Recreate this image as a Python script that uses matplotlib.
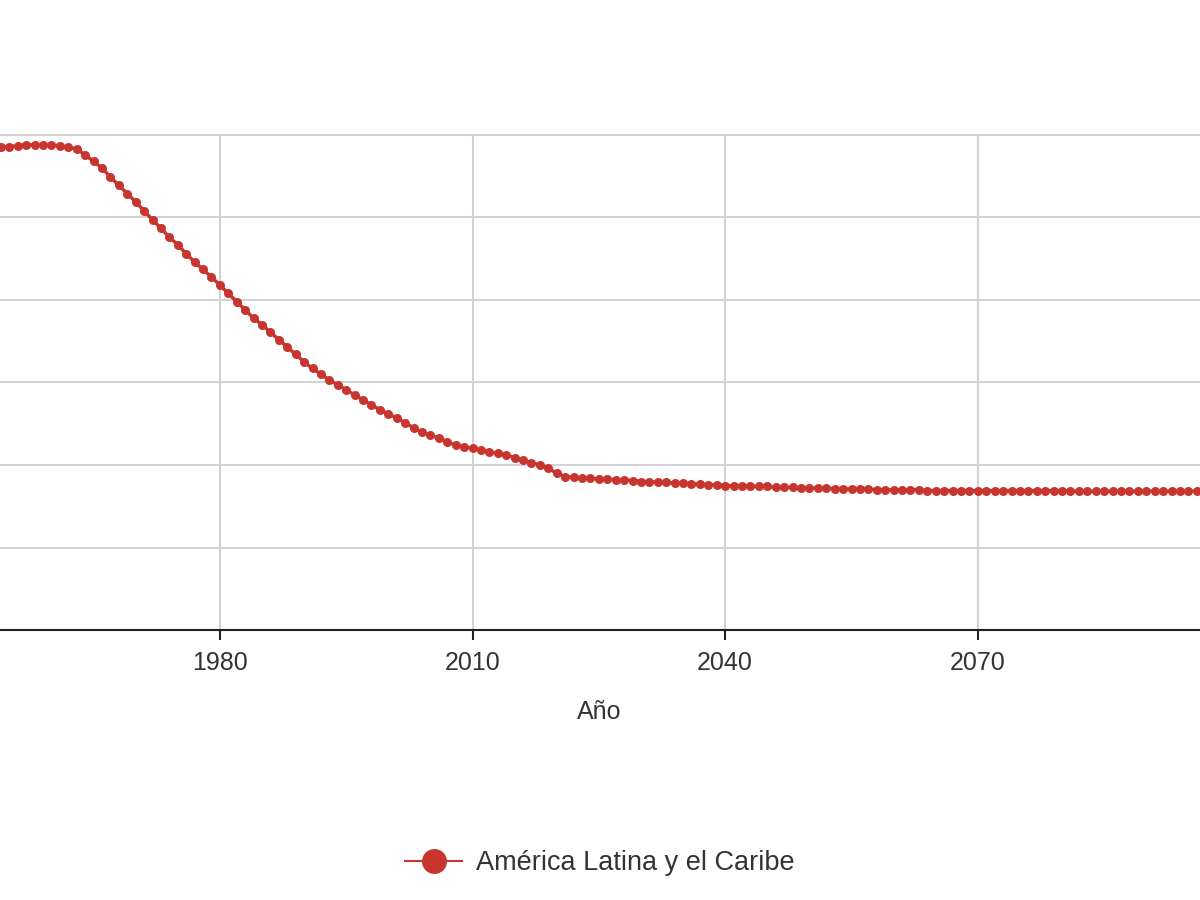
import matplotlib
matplotlib.use("Agg")
import matplotlib.pyplot as plt
from matplotlib.lines import Line2D

plt.rcParams['font.family'] = ['Liberation Sans', 'DejaVu Sans']

# Tasa global de fecundidad, America Latina y el Caribe
years = list(range(1950, 2101))
fertility = [
    5.80, 5.82, 5.83, 5.84, 5.85, 5.86, 5.87, 5.88, 5.88, 5.88,  # 1950-1959
    5.88, 5.87, 5.85, 5.83, 5.76, 5.68, 5.60, 5.49, 5.39, 5.29,  # 1960-1969
    5.19, 5.08, 4.97, 4.87, 4.76, 4.67, 4.56, 4.46, 4.37, 4.28,  # 1970-1979
    4.18, 4.08, 3.98, 3.88, 3.78, 3.70, 3.61, 3.52, 3.43, 3.34,  # 1980-1989
    3.25, 3.17, 3.10, 3.03, 2.97, 2.91, 2.85, 2.79, 2.73, 2.67,  # 1990-1999
    2.62, 2.57, 2.51, 2.45, 2.40, 2.36, 2.33, 2.28, 2.24, 2.22,  # 2000-2009
    2.20, 2.18, 2.16, 2.14, 2.12, 2.09, 2.06, 2.03, 2.00, 1.96,  # 2010-2019
    1.90, 1.86, 1.85, 1.84, 1.84, 1.83, 1.83, 1.82, 1.82, 1.81,  # 2020-2029
    1.80, 1.80, 1.79, 1.79, 1.78, 1.78, 1.77, 1.77, 1.76, 1.76,  # 2030-2039
    1.75, 1.75, 1.75, 1.74, 1.74, 1.74, 1.73, 1.73, 1.73, 1.72,  # 2040-2049
    1.72, 1.72, 1.72, 1.71, 1.71, 1.71, 1.71, 1.71, 1.70, 1.70,  # 2050-2059
    1.70, 1.70, 1.70, 1.70, 1.69, 1.69, 1.69, 1.69, 1.69, 1.69,  # 2060-2069
    1.69, 1.69, 1.69, 1.69, 1.69, 1.69, 1.69, 1.69, 1.69, 1.69,  # 2070-2079
    1.69, 1.68, 1.68, 1.68, 1.68, 1.68, 1.68, 1.68, 1.68, 1.68,  # 2080-2089
    1.68, 1.68, 1.68, 1.68, 1.68, 1.68, 1.68, 1.68, 1.68, 1.68,  # 2090-2099
    1.68,                                                        # 2100
]
x_ticks = [1980, 2010, 2040, 2070]   # 1950 y 2100 quedan fuera del recorte
y_ticks = [0, 1, 2, 3, 4, 5, 6]
series_name = "América Latina y el Caribe"
x_title = "Año"

red = '#c8352f'
text_col = '#333333'

fig = plt.figure(figsize=(12, 9), dpi=100)
# el area de trazado es mas ancha que la imagen (recortada a los lados)
ax = fig.add_axes([-0.0273, 0.30, 1.0527, 0.55])

ax.plot(years, fertility, color=red, lw=2.5, marker='o', markersize=6.5,
        markeredgewidth=0, clip_on=False, zorder=3)

ax.set_xlim(1950, 2100)
ax.set_ylim(0, 6)
ax.set_xticks(x_ticks)
ax.set_yticks(y_ticks)
ax.grid(True, color='#d3d3d3', lw=1.5)
for gl in ax.get_ygridlines():
    gl.set_clip_on(False)
ax.set_axisbelow(True)
for s in ['top', 'right', 'left']:
    ax.spines[s].set_visible(False)
ax.spines['bottom'].set_color('#222222')
ax.spines['bottom'].set_linewidth(1.5)
ax.tick_params(axis='y', left=False, labelleft=False)
ax.tick_params(axis='x', length=7, width=1.5, color='#222222', pad=8,
               labelsize=18, labelcolor=text_col)
ax.set_xlabel(x_title, fontsize=18, color=text_col, labelpad=18)

handle = Line2D([], [], color=red, lw=1.5, marker='o', markersize=18,
                markeredgewidth=0)
fig.legend([handle], [series_name], loc='center', bbox_to_anchor=(0.5, 0.041),
           frameon=False, fontsize=19.5, handlelength=2.1, handletextpad=0.5,
           labelcolor=text_col)

fig.savefig('out.png', dpi=100)
